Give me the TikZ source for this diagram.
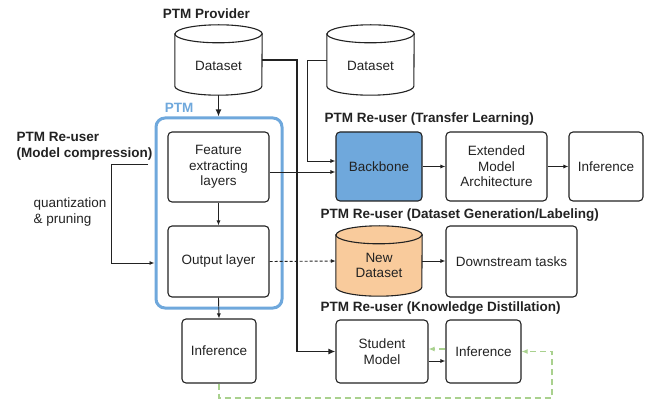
\documentclass[tikz,border=0pt]{standalone}
\usepackage{fontspec}
\setmainfont{Liberation Sans}
\usetikzlibrary{arrows.meta,calc}
\definecolor{ptmblue}{HTML}{6FA8DC}
\definecolor{ndorange}{HTML}{F9CB9C}
\definecolor{kdgreen}{HTML}{A9D18E}
\definecolor{ink}{HTML}{222222}
\newcommand{\cylshape}[4]{% name, fill, rx, ry
  \path[draw=ink, line width=1.1pt, fill=#2]
    ($(#1.north west)+(0,-#4)$) -- ($(#1.south west)+(0,#4)$)
    arc[start angle=180, end angle=360, x radius=#3, y radius=#4]
    -- ($(#1.north east)+(0,-#4)$)
    arc[start angle=0, end angle=180, x radius=#3, y radius=#4] -- cycle;
  \draw[ink, line width=1.1pt] ($(#1.north west)+(0,-#4)$)
    arc[start angle=180, end angle=360, x radius=#3, y radius=#4];
}
\begin{document}
\begin{tikzpicture}[x=1pt,y=-1pt,
  every node/.style={font=\fontsize{13.5}{15.5}\selectfont, text=ink},
  box/.style={draw=ink, line width=1.1pt, rounded corners=4pt, align=center, inner sep=2pt},
  cylarea/.style={minimum width=#1, minimum height=70pt, inner sep=0pt},
  title/.style={font=\fontsize{13.5}{16.5}\selectfont\bfseries, anchor=west, align=left},
  arr/.style={draw=ink, line width=0.9pt, -{Latex[length=5pt,width=4pt]}},
  thickarr/.style={draw=ink, line width=1.5pt, -{Latex[length=7pt,width=6pt]}},
  dasharr/.style={arr, dash pattern=on 3pt off 2pt},
  greenarr/.style={draw=kdgreen, line width=1.1pt, dash pattern=on 6pt off 4pt, -{Latex[length=6pt,width=5pt]}},
]
\useasboundingbox (0,0) rectangle (645,403);

% titles
\node[font=\fontsize{13.5}{16}\selectfont\bfseries] (tprov) at (206.5,14) {PTM Provider};
\node[title] (tcomp) at (13,146.5) {PTM Re-user\\(Model compression)};
\node[anchor=west, align=left] (tquant) at (30,212) {quantization\\\& pruning};
\node[title] (ttl) at (321,119) {PTM Re-user (Transfer Learning)};
\node[title] (tdg) at (317,215) {PTM Re-user (Dataset Generation/Labeling)};
\node[title] (tkd) at (317,308) {PTM Re-user (Knowledge Distillation)};

% PTM container
\node[draw=ptmblue, line width=3pt, rounded corners=9pt, minimum width=126pt, minimum height=190pt] (ptm) at (219,213) {};
\node[font=\fontsize{13.5}{16}\selectfont\bfseries, text=ptmblue] (tptm) at (179,108) {PTM};

% datasets
\node[cylarea=87pt] (ds1) at (218.5,60) {};
\cylshape{ds1}{white}{43.5pt}{9pt}
\node (ds1t) at ([yshift=-6pt]ds1.center) {Dataset};
\node[cylarea=87pt] (ds2) at (370.5,60) {};
\cylshape{ds2}{white}{43.5pt}{9pt}
\node (ds2t) at ([yshift=-6pt]ds2.center) {Dataset};

% PTM inner boxes
\node[box, minimum width=101pt, minimum height=70pt] (feat) at (218.5,167) {Feature\\extracting\\layers};
\node[box, minimum width=101pt, minimum height=71pt] (outl) at (218.5,261.5) {Output layer};
\node[box, minimum width=74pt, minimum height=64pt] (inf1) at (219,351) {Inference};

% transfer learning
\node[box, fill=ptmblue, minimum width=86pt, minimum height=69pt] (bb) at (379,166.5) {Backbone};
\node[box, minimum width=101pt, minimum height=69pt] (ext) at (496.5,166.5) {Extended\\Model\\Architecture};
\node[box, minimum width=74pt, minimum height=69pt] (inf2) at (606,166.5) {Inference};

% dataset generation
\node[cylarea=86pt] (newds) at (379,261) {};
\cylshape{newds}{ndorange}{43pt}{9pt}
\node[align=center] (newdst) at ([yshift=-4.5pt]newds.center) {New\\Dataset};
\node[box, minimum width=131pt, minimum height=71pt] (down) at (511.5,261.5) {Downstream tasks};

% knowledge distillation
\node[box, minimum width=92pt, minimum height=63pt] (stu) at (382,351.5) {Student\\Model};
\node[box, minimum width=75pt, minimum height=63pt] (inf3) at (483.5,351.5) {Inference};

% connectors
\draw[thickarr] (ds1.south) -- (ds1.south |- ptm.north);
\draw[thickarr] (ds1.east) -- ++(35,0) |- (stu.west);
\draw[arr] (ds2.west) -- ++(-19,0) |- ([yshift=5.5pt]bb.west);
\draw[arr] ([yshift=-5pt]feat.east) -- ([yshift=-5pt]feat.east -| bb.west);
\draw[arr] (feat.south) -- (outl.north);
\draw[arr] (outl.south) -- (inf1.north);
\coordinate (c1) at (148,164);
\draw[arr] (c1) -- ++(-37,0) |- ([yshift=-1.5pt]ptm.west |- outl.center);
\draw[dasharr] (outl.east) -- (newds.west);
\draw[arr] (newds.east) -- (down.west |- newds.east);
\draw[arr] (bb.east) -- (ext.west);
\draw[arr] (ext.east) -- (inf2.west);
\draw[arr] ([yshift=-9.5pt]stu.east) -- ([yshift=-9.5pt]stu.east -| inf3.west);
\draw[greenarr] ([yshift=2.5pt]inf3.west) -- ([yshift=2.5pt]inf3.west -| stu.east);
\coordinate (gc) at (552,398);
\draw[greenarr] (inf1.south) |- (gc) |- (inf3.east);
\end{tikzpicture}
\end{document}
